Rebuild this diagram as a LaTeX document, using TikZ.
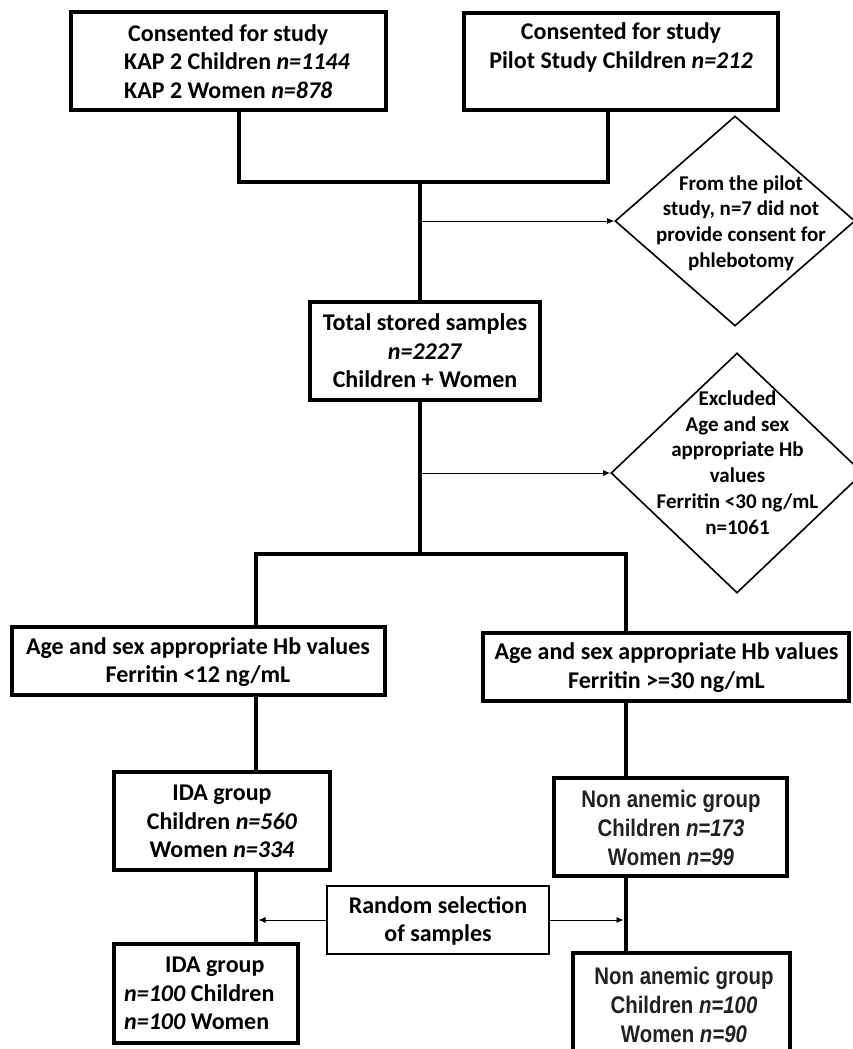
\documentclass[tikz,border=0pt]{standalone}
\usepackage{fontspec}
\setmainfont{Carlito}
\newfontfamily\narrowfont[FakeStretch=0.85]{Liberation Sans}
\usetikzlibrary{shapes.geometric,arrows.meta}
\begin{document}
\begin{tikzpicture}[x=1pt,y=-1pt,
  box/.style={draw, line width=3.3pt, inner sep=0pt},
  thinbox/.style={draw, line width=1.2pt, inner sep=0pt},
  dia/.style={diamond, draw, line width=1.6pt, inner sep=0pt},
  conn/.style={line width=4.5pt, line cap=rect, line join=miter},
  arr/.style={line width=0.9pt, -{Latex[length=7pt,width=6pt]}},
  txt/.style={font=\fontsize{24}{28.5}\selectfont\bfseries, align=center, inner sep=0pt},
  dtxt/.style={font=\fontsize{21}{25.8}\selectfont\bfseries, align=center, inner sep=0pt},
  ntxt/.style={font=\narrowfont\fontsize{24}{29}\selectfont\bfseries, align=center, inner sep=0pt, text=black!87}
]
\useasboundingbox (0,0) rectangle (853,1049);
\clip (0,0) rectangle (853,1049);

% boxes
\node[box, minimum width=315pt, minimum height=98pt] (b1) at (228.5,61) {};
\node[box, minimum width=314pt, minimum height=97pt] (b2) at (621,61.5) {};
\node[box, minimum width=230pt, minimum height=98pt] (b3) at (425,351) {};
\node[dia, minimum width=240pt, minimum height=210pt] (d1) at (735,221) {};
\node[dia, minimum width=252pt, minimum height=240pt] (d2) at (737,473) {};
\node[box, minimum width=373pt, minimum height=68pt] (b4) at (198.5,661) {};
\node[box, minimum width=366pt, minimum height=68pt] (b5) at (666,667) {};
\node[box, minimum width=216pt, minimum height=98pt] (b6) at (222,821) {};
\node[box, minimum width=233pt, minimum height=98pt] (b7) at (670.5,827) {};
\node[thinbox, minimum width=222pt, minimum height=68pt] (rs) at (438,920) {};
\node[box, minimum width=184pt, minimum height=99pt] (b8) at (206,993.5) {};
\node[box, minimum width=217pt, minimum height=106pt] (b9) at (681.5,1006) {};

% texts
\node[txt, align=left, anchor=west] (b1t) at (124,61.5) {\hspace*{4pt}Consented for study\\KAP 2 Children \textit{n=1144}\\KAP 2 Women \textit{n=878}};
\node[txt] (b2t) at (621,47.5) {Consented for study\\Pilot Study Children \textit{n=212}};
\node[txt] (b3t) at (425,351) {Total stored samples\\\textit{n=2227}\\Children + Women};
\node[dtxt] (d1t) at (741,223) {From the pilot\\study, n=7 did not\\provide consent for\\phlebotomy};
\node[dtxt] (d2t) at (737.5,462.5) {Excluded\\Age and sex\\appropriate Hb\\values\\Ferritin <30 ng/mL\\n=1061};
\node[txt] (b4t) at (198,662) {Age and sex appropriate Hb values\\Ferritin <12 ng/mL};
\node[txt] (b5t) at (666.5,667.5) {Age and sex appropriate Hb values\\Ferritin >=30 ng/mL};
\node[txt] (b6t) at (222,821.5) {IDA group\\Children \textit{n=560}\\Women \textit{n=334}};
\node[ntxt] (b7t) at (671,828) {Non anemic group\\Children \textit{n=173}\\Women \textit{n=99}};
\node[txt] (rst) at (438,921) {Random selection\\of samples};
\node[txt, align=left, anchor=west] (b8t) at (124,993.5) {\hspace*{41pt}IDA group\\\textit{n=100} Children\\\textit{n=100} Women};
\node[ntxt] (b9t) at (684,1005) {Non anemic group\\Children \textit{n=100}\\Women \textit{n=90}};

% junctions
\coordinate (jA) at (239,182);
\coordinate (jB) at (608,182);
\coordinate (jM) at (420,182);
\coordinate (jM2) at (420,554);
\coordinate (jL) at (256,554);
\coordinate (jR) at (626,554);
\coordinate (a1) at (420,221);
\coordinate (a2) at (420,473);
\coordinate (tL) at (258.5,920);
\coordinate (tR) at (623.5,920);

% connectors
\draw[conn] (b1.south -| jA) -- (jA) -- (jB) -- (b2.south -| jB);
\draw[conn] (jM) -- (b3.north -| jM);
\draw[conn] (b3.south -| jM2) -- (jM2);
\draw[conn] (b4.north -| jL) -- (jL) -- (jR) -- (b5.north -| jR);
\draw[conn] (b4.south -| jL) -- (b6.north -| jL);
\draw[conn] (b6.south -| jL) -- (b8.north -| jL);
\draw[conn] (b5.south -| jR) -- (b7.north -| jR);
\draw[conn] (b7.south -| jR) -- (b9.north -| jR);
\draw[arr] (a1) -- (d1.west);
\draw[arr] (a2) -- (d2.west);
\draw[arr] (rs.west) -- (tL);
\draw[arr] (rs.east) -- (tR);
\end{tikzpicture}
\end{document}
